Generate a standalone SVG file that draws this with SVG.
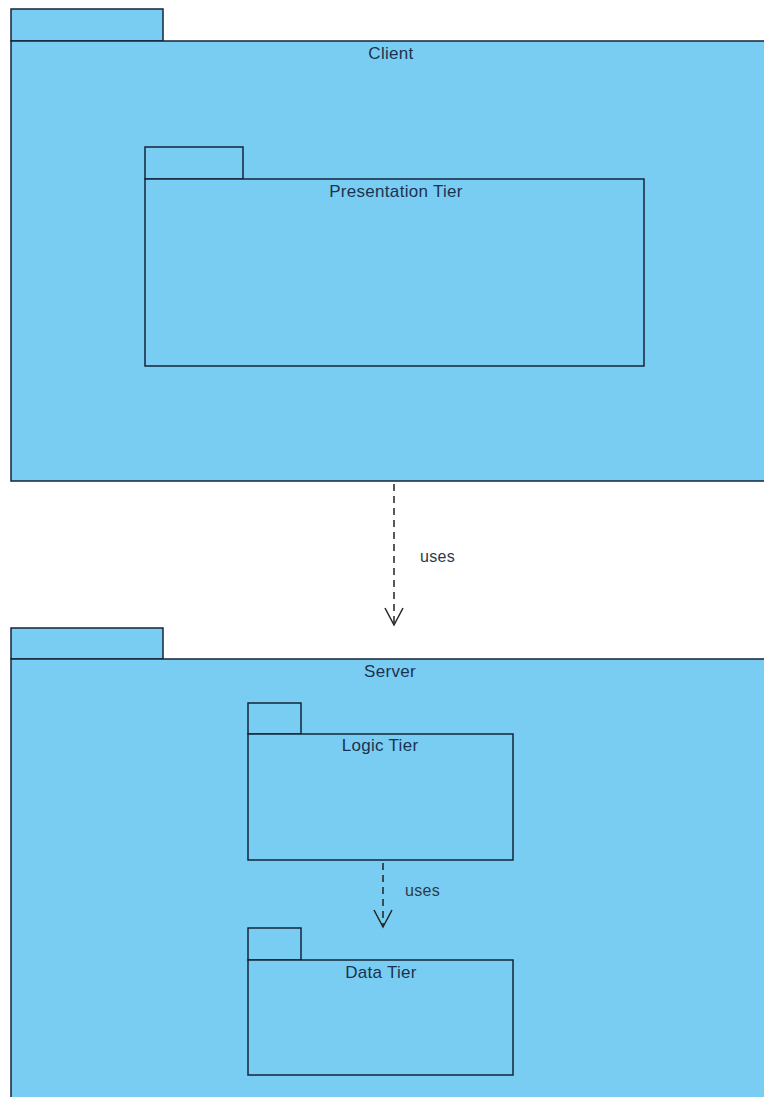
<svg xmlns="http://www.w3.org/2000/svg" width="764" height="1097" viewBox="0 0 764 1097">
<style>
.pk{fill:#7acdf2;stroke:#14243a;stroke-width:1.5}
.lb{font-family:"Liberation Sans",Arial,sans-serif;font-size:17px;fill:#1b3350;text-anchor:middle;letter-spacing:0.3px}
.ul{font-family:"Liberation Sans",Arial,sans-serif;font-size:16px;fill:#2a3a4a;letter-spacing:0.3px}
.dep{fill:none;stroke:#222;stroke-width:1.5;stroke-dasharray:7 5}
.hd{fill:none;stroke:#222;stroke-width:1.5}
</style>
<rect width="764" height="1097" fill="#ffffff"/>
<g id="client">
<rect class="pk" x="11" y="9" width="152" height="32"/>
<rect class="pk" x="11" y="41" width="760" height="440"/>
<text class="lb" x="391" y="59">Client</text>
</g>
<g id="presentation">
<rect class="pk" x="145" y="147" width="98" height="32"/>
<rect class="pk" x="145" y="179" width="499" height="187"/>
<text class="lb" x="396" y="197">Presentation Tier</text>
</g>
<g id="server">
<rect class="pk" x="11" y="628" width="152" height="31"/>
<rect class="pk" x="11" y="659" width="760" height="445"/>
<text class="lb" x="390" y="677">Server</text>
</g>
<g id="logic">
<rect class="pk" x="248" y="703" width="53" height="31"/>
<rect class="pk" x="248" y="734" width="265" height="126"/>
<text class="lb" x="380" y="751">Logic Tier</text>
</g>
<g id="data">
<rect class="pk" x="248" y="928" width="53" height="32"/>
<rect class="pk" x="248" y="960" width="265" height="115"/>
<text class="lb" x="381" y="978">Data Tier</text>
</g>
<g id="connectors">
<line class="dep" x1="394" y1="484" x2="394" y2="624"/>
<polyline class="hd" points="385,608 394,625 403,608"/>
<text class="ul" x="420" y="562">uses</text>
<line class="dep" x1="383" y1="863" x2="383" y2="926"/>
<polyline class="hd" points="374,910 383,927 392,910"/>
<text class="ul" x="405" y="896">uses</text>
</g>
</svg>
